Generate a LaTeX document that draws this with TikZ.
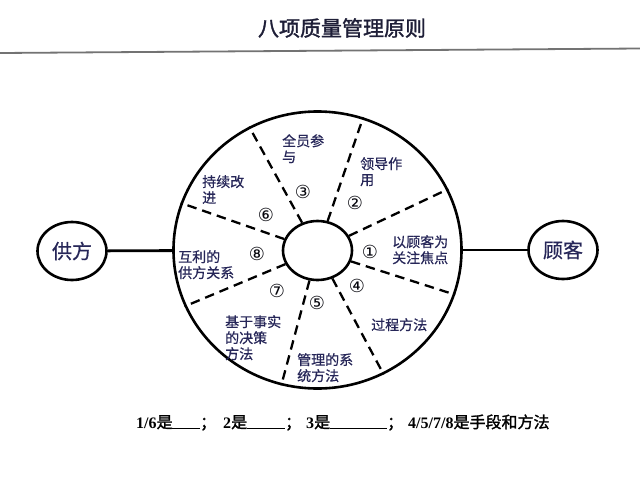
\documentclass[tikz,border=0pt]{standalone}
\usetikzlibrary{shapes.geometric}
\usepackage{fontspec}
\newfontfamily\cjk{Noto Sans CJK SC}[FakeBold=0.6]
\newfontfamily\cjkb{Noto Sans CJK SC}[FakeBold=1.5]
\newfontfamily\tnr{Liberation Serif}
\newfontfamily\dvs{DejaVu Sans}
\definecolor{navy}{RGB}{38,38,88}
\definecolor{titlec}{RGB}{30,30,55}
\newcommand\tb[1]{{\tnr\bfseries #1}}
\newcommand\blankline[1]{\rule[-0.6pt]{#1pt}{1.1pt}}
\begin{document}
\begin{tikzpicture}[x=1pt,y=-1pt,
  ring/.style={ellipse,draw,line width=2.6pt,inner sep=0pt},
  sidec/.style={ellipse,draw,line width=2.6pt,inner sep=0pt,minimum width=69pt,minimum height=58pt,text=navy,font=\cjk\fontsize{20}{20}\selectfont},
  link/.style={line width=2.8pt},
  divider/.style={line width=2.3pt,dash pattern=on 9.5pt off 6pt},
  lab/.style={anchor=north west,inner sep=0pt,align=left,text=navy,font=\cjk\fontsize{14}{16}\selectfont},
  num/.style={inner sep=0pt,text=black!85!navy,font=\dvs\fontsize{18}{18}\selectfont}
]
\useasboundingbox (0,0) rectangle (640,480);
\fill[white] (0,0) rectangle (640,480);
% title
\node[inner sep=0pt,text=titlec,font=\cjkb\fontsize{21}{21}\selectfont] (title) at (342,28) {八项质量管理原则};
\coordinate (rl) at (0,53);
\coordinate (rr) at (640,48.5);
\draw[line width=1.8pt,black!55] (rl) -- (rr);
% circles
\node[ring,minimum width=288pt,minimum height=277pt] (outer) at (317.5,250) {};
\node[ring,minimum width=69pt,minimum height=59pt] (inner) at (317.5,250.5) {};
\node[sidec] (gong) at (72,251) {供方};
\node[sidec] (gu) at (563,250) {顾客};
\draw[link] (gong) -- (outer);
\draw[link] (outer) -- (gu);
% dividers
\foreach \a in {25.6,-18.8,-62.4,-105,-157.2,161.7,119.5,71.6}
  \draw[divider] (inner.\a) -- (outer.\a);
% labels
\node[lab] (l3) at (282,134) {全员参\\与};
\node[lab] (l2) at (360,157) {领导作\\用};
\node[lab] (l6) at (202,175) {持续改\\进};
\node[lab] (l1) at (392,235) {以顾客为\\关注焦点};
\node[lab] (l8) at (178,250) {互利的\\供方关系};
\node[lab] (l4) at (371,318) {过程方法};
\node[lab] (l7) at (225,315) {基于事实\\的决策\\方法};
\node[lab] (l5) at (297,353) {管理的系\\统方法};
% numbers
\node[num] (n3) at (303,192) {③};
\node[num] (n2) at (355,203) {②};
\node[num] (n6) at (266,215) {⑥};
\node[num] (n1) at (370,252) {①};
\node[num] (n8) at (257,254) {⑧};
\node[num] (n4) at (357,286) {④};
\node[num] (n7) at (277,291) {⑦};
\node[num] (n5) at (317,303) {⑤};
% bottom line
\node[anchor=base west,inner sep=0pt,font=\fontsize{16}{16}\selectfont] (note) at (136,428)
  {\makebox[36pt][l]{\tb{1/6}{\cjkb 是}}\blankline{28}\makebox[15pt][l]{\cjkb ；}\makebox[32pt][r]{\tb{2}{\cjkb 是}}\blankline{38}\makebox[18pt][l]{\cjkb ；}\makebox[27pt][r]{\tb{3}{\cjkb 是}}\blankline{57}\makebox[21pt][l]{\cjkb ；}\tb{4/5/7/8}{\cjkb 是手段和方法}};
\end{tikzpicture}
\end{document}
